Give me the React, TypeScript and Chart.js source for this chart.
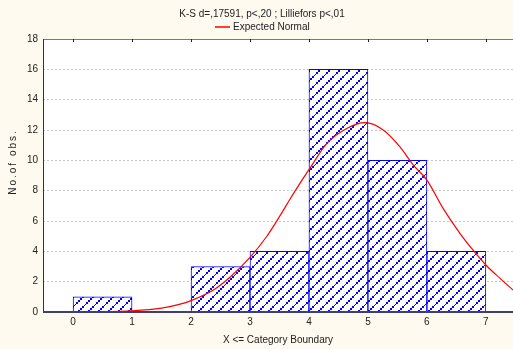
import React, { useEffect, useRef } from "react";
import { Chart, registerables } from "chart.js";

Chart.register(...registerables);

const titleText = "K-S d=,17591, p<,20 ; Lilliefors p<,01";
const legendLabel = "Expected Normal";
const xTitle = "X <= Category Boundary";
const yTitle = "No.of obs.";

const binStarts = [0, 1, 2, 3, 4, 5, 6];
const binCounts = [1, 0, 3, 4, 16, 10, 4];

const normalX = [-0.5, 0, 0.5, 1, 1.5, 1.8, 2, 2.38, 2.66, 3, 3.28, 3.51, 3.68, 3.85, 4.02, 4.3, 4.64, 4.95, 5.26, 5.54, 5.77, 6, 6.28, 6.56, 6.78, 7, 7.24, 7.46];
const normalY = [0, 0, 0.01, 0.07, 0.25, 0.5, 0.75, 1.45, 2.29, 3.6, 4.96, 6.35, 7.45, 8.5, 9.5, 11.1, 12.1, 12.48, 12.0, 10.9, 9.69, 8.7, 6.8, 5.19, 4.09, 3.1, 2.22, 1.45];

const xTicks = [0, 1, 2, 3, 4, 5, 6, 7];
const yTicks = [0, 2, 4, 6, 8, 10, 12, 14, 16, 18];

const FONT = "'Liberation Sans', Arial, sans-serif";

function makePattern(): CanvasPattern | string {
  const T = 10;
  const c = document.createElement("canvas");
  c.width = T;
  c.height = T;
  const g = c.getContext("2d");
  if (!g) return "#0000ff";
  g.fillStyle = "#ffffff";
  g.fillRect(0, 0, T, T);
  g.fillStyle = "#0000ff";
  g.fillRect(0, 8, 2, 2);
  g.fillRect(2, 6, 2, 2);
  g.fillRect(4, 5, 1, 1);
  g.fillRect(5, 4, 1, 1);
  g.fillRect(6, 2, 2, 2);
  g.fillRect(8, 0, 2, 2);
  const p = g.createPattern(c, "repeat");
  return p || "#0000ff";
}

const decoPlugin = {
  id: "deco",
  beforeDraw(chart: any) {
    const { ctx, chartArea: a, width, height } = chart;
    ctx.save();
    ctx.fillStyle = "#FFFAF0";
    ctx.fillRect(0, 0, width, height);
    ctx.fillStyle = "#ffffff";
    ctx.fillRect(a.left, a.top, a.right - a.left, a.bottom - a.top);
    ctx.restore();
  },
  afterDatasetsDraw(chart: any) {
    const { ctx, chartArea: a } = chart;
    const xs = chart.scales.x;
    ctx.save();
    ctx.strokeStyle = "#7a7a7a";
    ctx.lineWidth = 1;
    ctx.beginPath();
    ctx.moveTo(a.left, a.top + 0.5);
    ctx.lineTo(a.right, a.top + 0.5);
    ctx.stroke();
    ctx.strokeStyle = "#222";
    xTicks.forEach((v) => {
      const px = Math.round(xs.getPixelForValue(v)) + 0.5;
      ctx.beginPath();
      ctx.moveTo(px, a.top);
      ctx.lineTo(px, a.top + 3);
      ctx.stroke();
    });
    ctx.strokeStyle = "#333";
    ctx.beginPath();
    ctx.moveTo(a.left + 0.5, a.top);
    ctx.lineTo(a.left + 0.5, a.bottom);
    ctx.stroke();
    ctx.strokeStyle = "#40406a";
    ctx.lineWidth = 2;
    ctx.beginPath();
    ctx.moveTo(a.left, a.bottom);
    ctx.lineTo(a.right, a.bottom);
    ctx.stroke();
    ctx.restore();
  },
  afterDraw(chart: any) {
    const { ctx } = chart;
    ctx.save();
    ctx.fillStyle = "#222";
    ctx.font = `10px ${FONT}`;
    ctx.textBaseline = "middle";
    ctx.textAlign = "center";
    ctx.fillText(titleText, 262, 14);
    ctx.strokeStyle = "#ff0000";
    ctx.lineWidth = 1.5;
    ctx.beginPath();
    ctx.moveTo(215, 27);
    ctx.lineTo(230, 27);
    ctx.stroke();
    ctx.textAlign = "left";
    ctx.fillText(legendLabel, 233, 27.5);
    ctx.translate(13.5, 162);
    ctx.rotate(-Math.PI / 2);
    ctx.textAlign = "center";
    try {
      (ctx as any).letterSpacing = "2px";
    } catch (e) {}
    ctx.fillText(yTitle, 0, 0);
    ctx.restore();
  },
};

export default function App() {
  const ref = useRef<HTMLCanvasElement | null>(null);

  useEffect(() => {
    document.body.style.margin = "0";
    const canvas = ref.current;
    if (!canvas) return;
    const pattern = makePattern();

    const barData = binStarts.map((s, i) => ({ x: s + 0.5, y: binCounts[i] }));
    const lineData = normalX.map((x, i) => ({ x, y: normalY[i] }));

    const chart = new Chart(canvas, {
      type: "bar",
      data: {
        datasets: [
          {
            type: "line",
            label: legendLabel,
            data: lineData,
            borderColor: "#ff0000",
            borderWidth: 1.2,
            pointRadius: 0,
            cubicInterpolationMode: "monotone",
            order: 0,
          } as any,
          {
            type: "bar",
            label: "Observed",
            data: barData,
            backgroundColor: pattern as any,
            borderColor: "#0000ff",
            borderWidth: 1,
            barPercentage: 1,
            categoryPercentage: 1,
            order: 1,
          } as any,
        ],
      },
      options: {
        animation: false,
        responsive: false,
        maintainAspectRatio: false,
        events: [],
        layout: { padding: { top: 39, left: 0, right: 0, bottom: 0 } },
        plugins: {
          legend: { display: false },
          title: { display: false },
          tooltip: { enabled: false },
        },
        scales: {
          x: {
            type: "linear",
            min: -0.51,
            max: 7.46,
            offset: false,
            grid: { display: false, offset: false, drawTicks: false },
            border: { display: false },
            afterBuildTicks: (s: any) => {
              s.ticks = xTicks.map((v) => ({ value: v }));
            },
            afterFit: (s: any) => {
              s.height = 37;
            },
            ticks: {
              autoSkip: false,
              maxRotation: 0,
              padding: 4,
              color: "#222",
              font: { family: FONT, size: 10 },
            },
            title: {
              display: true,
              text: xTitle,
              color: "#222",
              font: { family: FONT, size: 10 },
              padding: { top: 0, bottom: 3 },
            },
          },
          y: {
            type: "linear",
            min: 0,
            max: 18,
            afterBuildTicks: (s: any) => {
              s.ticks = yTicks.map((v) => ({ value: v }));
            },
            afterFit: (s: any) => {
              s.width = 43;
            },
            grid: { color: "#c8c8c8", drawTicks: false, lineWidth: 1 },
            border: { display: false, dash: [2, 2] },
            ticks: {
              padding: 5,
              color: "#222",
              font: { family: FONT, size: 10 },
            },
          },
        },
      },
      plugins: [decoPlugin],
    });

    return () => chart.destroy();
  }, []);

  return (
    <div style={{ width: 513, height: 349 }}>
      <canvas ref={ref} width={513} height={349} style={{ display: "block" }} />
    </div>
  );
}
